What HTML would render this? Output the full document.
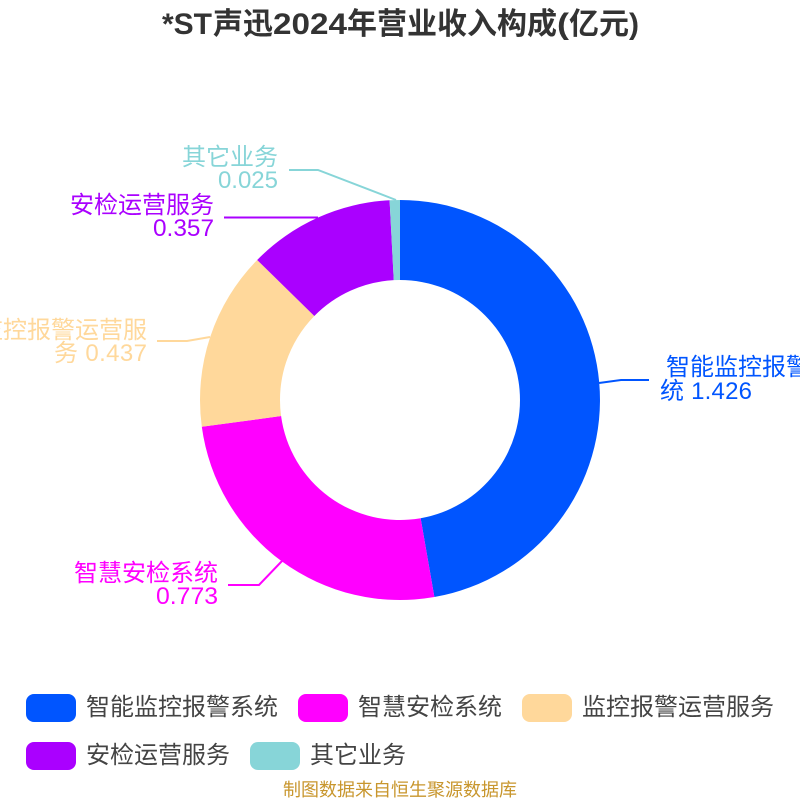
<!DOCTYPE html>
<html><head><meta charset="utf-8"><style>
html,body{margin:0;padding:0;background:#fff}
svg{display:block}
text{font-family:"Liberation Sans","Noto Sans CJK SC",sans-serif}
</style></head><body>
<svg xmlns="http://www.w3.org/2000/svg" width="800" height="800" viewBox="0 0 800 800">
<rect width="800" height="800" fill="#fff"/>
<g font-size="30" font-weight="bold" fill="#333">
<text x="162" y="34" textLength="50" lengthAdjust="spacingAndGlyphs">*ST</text>
<text x="213" y="34">声迅</text>
<text x="273" y="34" textLength="74" lengthAdjust="spacingAndGlyphs">2024</text>
<text x="347" y="34">年营业收入构成</text>
<text x="557" y="34" textLength="12" lengthAdjust="spacingAndGlyphs">(</text>
<text x="569" y="34">亿元</text>
<text x="629" y="34" textLength="10" lengthAdjust="spacingAndGlyphs">)</text>
</g>
<path d="M400 200A200 200 0 0 1 434.38 597.02L420.63 518.21A120 120 0 0 0 400 280Z" fill="#0055ff"/>
<path d="M434.38 597.02A200 200 0 0 1 201.8 426.77L281.08 416.06A120 120 0 0 0 420.63 518.21Z" fill="#ff00ff"/>
<path d="M201.8 426.77A200 200 0 0 1 257.19 259.98L314.32 315.99A120 120 0 0 0 281.08 416.06Z" fill="#ffd89b"/>
<path d="M257.19 259.98A200 200 0 0 1 389.6 200.27L393.76 280.16A120 120 0 0 0 314.32 315.99Z" fill="#aa00ff"/>
<path d="M389.6 200.27A200 200 0 0 1 400 200L400 280A120 120 0 0 0 393.76 280.16Z" fill="#87d5d8"/>
<g fill="none" stroke-width="2">
<path d="M599 383L621 380H649" stroke="#0055ff"/>
<path d="M282 561L259 585H228" stroke="#ff00ff"/>
<path d="M210 337L187 341H157" stroke="#ffd89b"/>
<path d="M318 217.5H224" stroke="#aa00ff"/>
<path d="M396 200L318 170H289" stroke="#87d5d8"/>
</g>
<g font-size="24">
<g fill="#0055ff"><text x="666" y="375">智能监控报警系</text><text x="660" y="399" textLength="92" lengthAdjust="spacing">统 1.426</text></g>
<g fill="#ff00ff"><text x="218" y="581" text-anchor="end">智慧安检系统</text><text x="156" y="604" textLength="62" lengthAdjust="spacingAndGlyphs">0.773</text></g>
<g fill="#ffd89b"><text x="147" y="338" text-anchor="end">监控报警运营服</text><text x="54" y="361" textLength="93" lengthAdjust="spacing">务 0.437</text></g>
<g fill="#aa00ff"><text x="214" y="213" text-anchor="end">安检运营服务</text><text x="153" y="236" textLength="61" lengthAdjust="spacingAndGlyphs">0.357</text></g>
<g fill="#87d5d8" text-anchor="end"><text x="278" y="165">其它业务</text><text x="278" y="188">0.025</text></g>
</g>
<g>
<rect x="26" y="694" width="50" height="28" rx="8" fill="#0055ff"/>
<rect x="298" y="694" width="50" height="28" rx="8" fill="#ff00ff"/>
<rect x="522" y="694" width="50" height="28" rx="8" fill="#ffd89b"/>
<rect x="26" y="742" width="50" height="28" rx="8" fill="#aa00ff"/>
<rect x="250" y="742" width="50" height="28" rx="8" fill="#87d5d8"/>
</g>
<g font-size="24" fill="#444">
<text x="86" y="715">智能监控报警系统</text>
<text x="358" y="715">智慧安检系统</text>
<text x="582" y="715">监控报警运营服务</text>
<text x="86" y="763">安检运营服务</text>
<text x="310" y="763">其它业务</text>
</g>
<text x="400" y="796" text-anchor="middle" font-size="18" fill="#c8962d">制图数据来自恒生聚源数据库</text>
</svg>
</body></html>
